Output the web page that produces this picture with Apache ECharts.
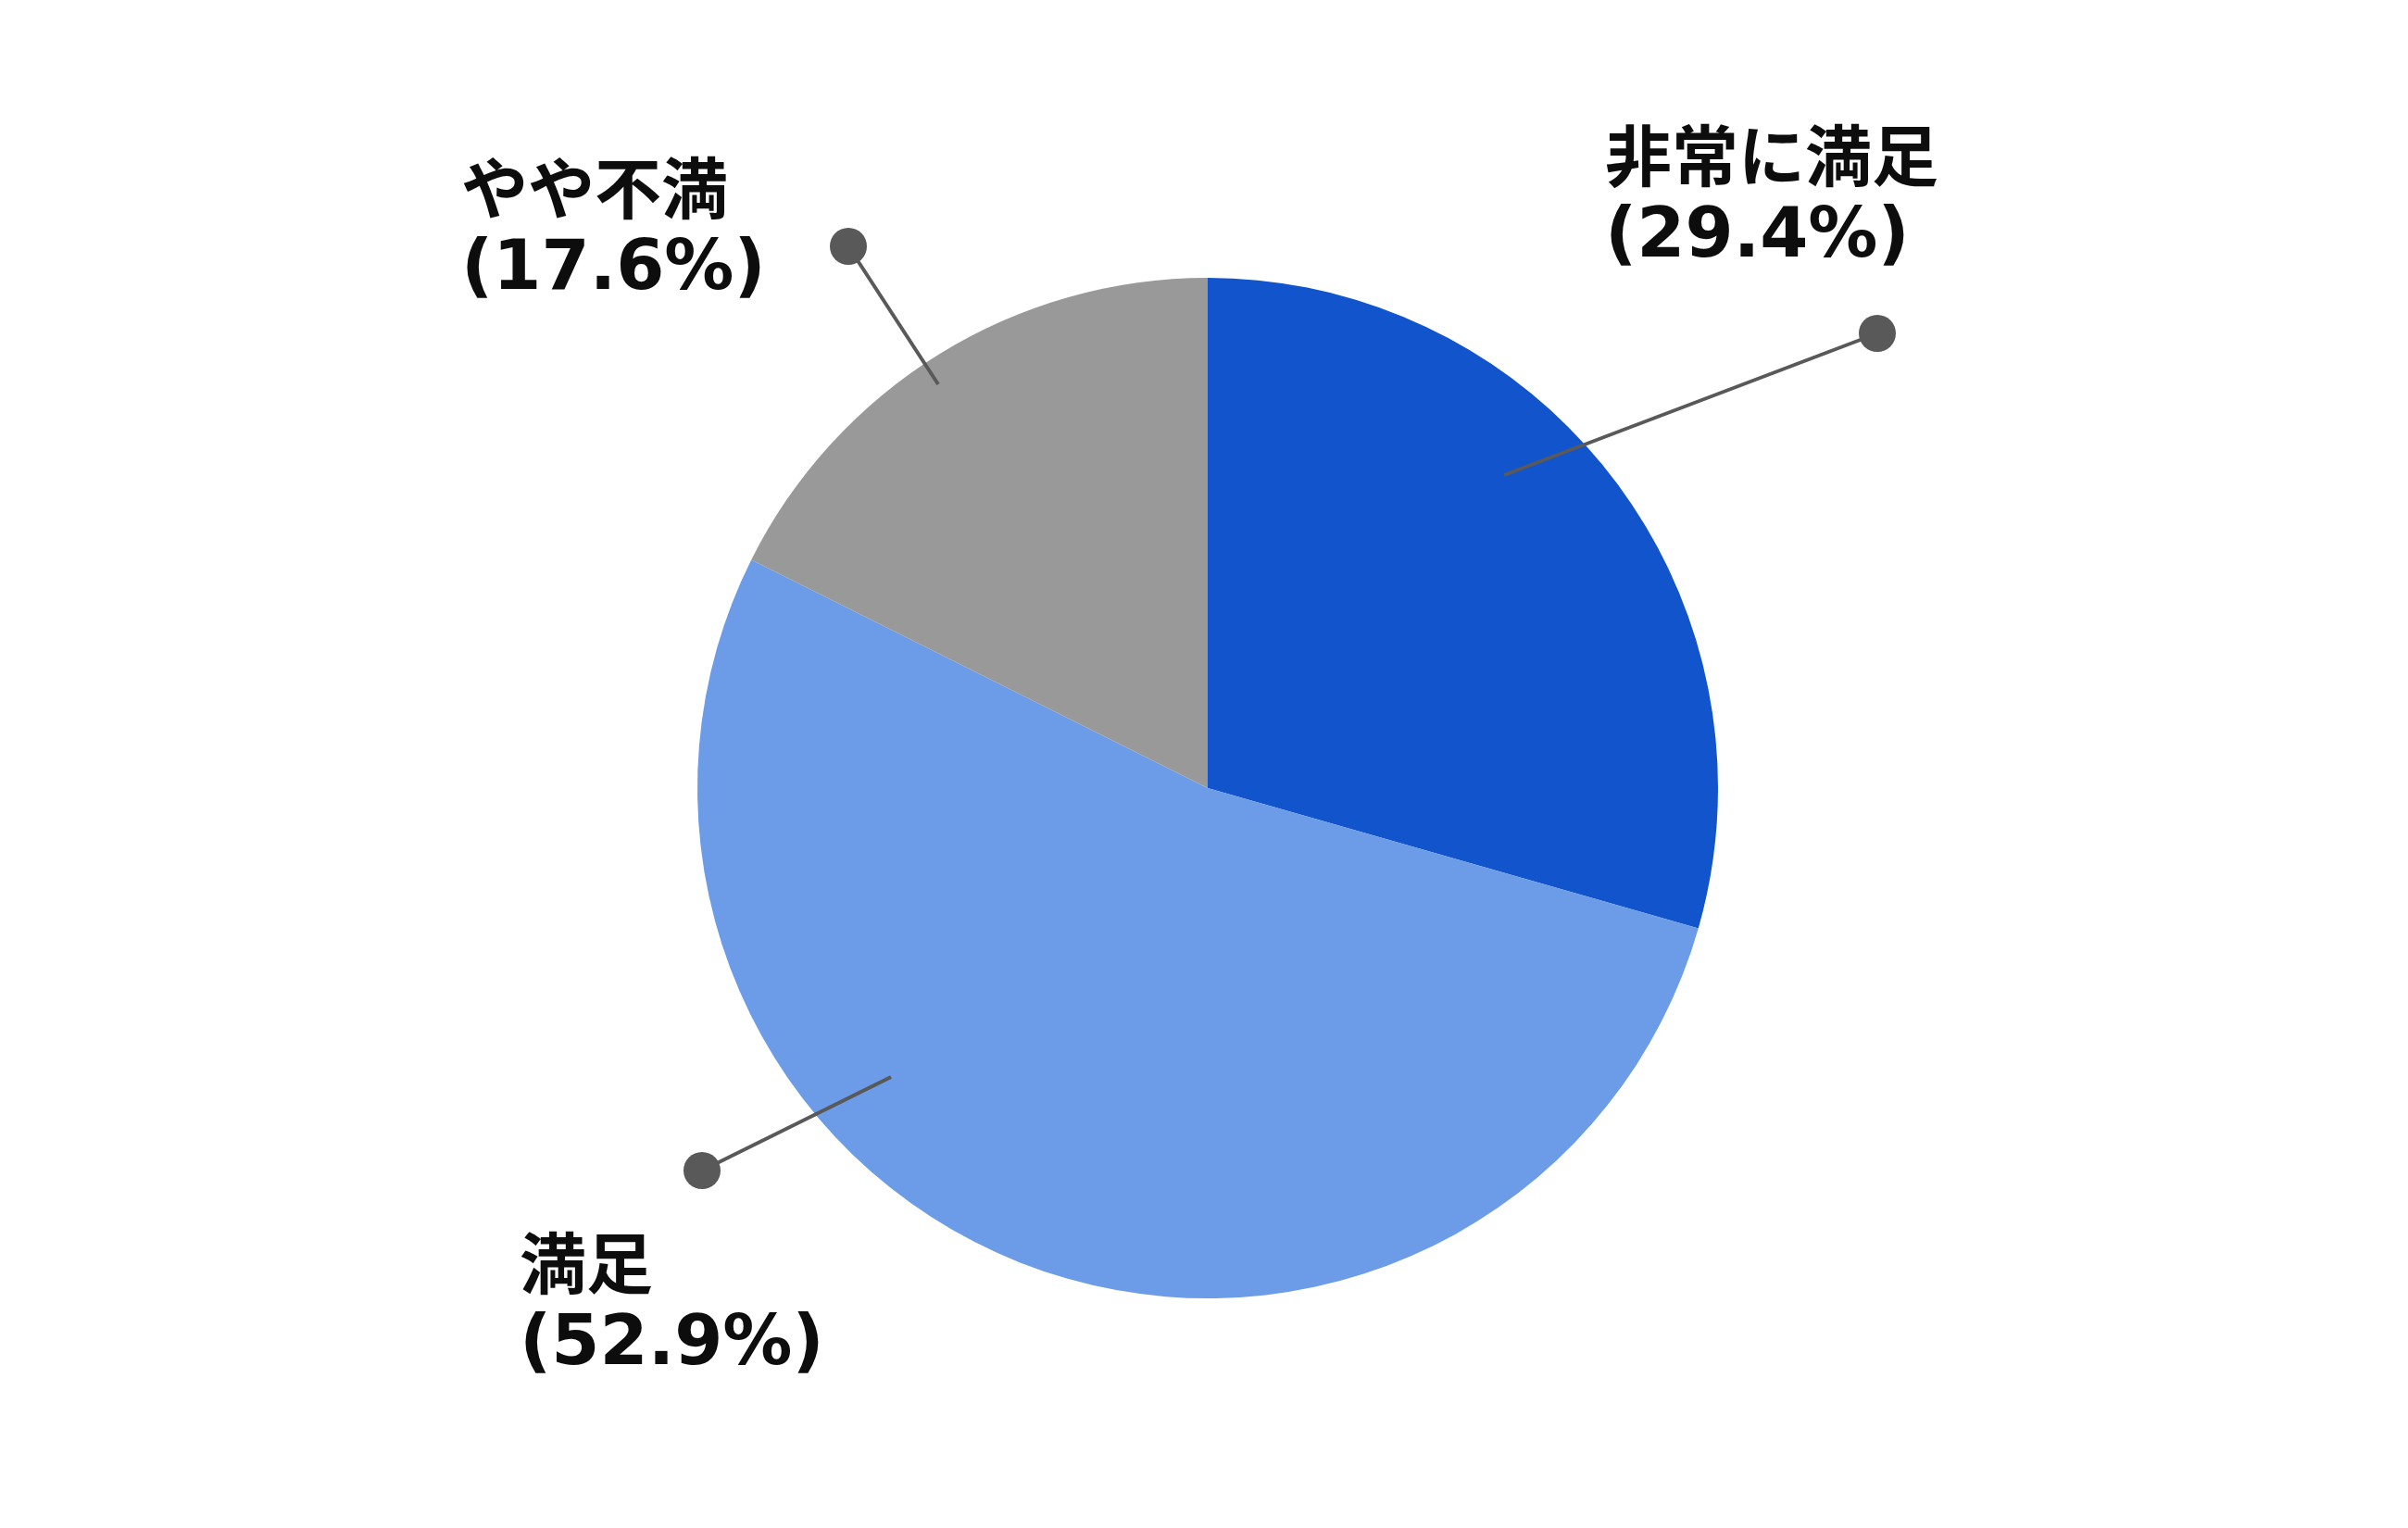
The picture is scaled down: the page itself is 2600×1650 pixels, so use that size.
<!DOCTYPE html>
<html>
<head>
<meta charset="utf-8">
<script src="https://cdn.jsdelivr.net/npm/echarts@6/dist/echarts.min.js"></script>
<style>
  html, body { margin: 0; padding: 0; background: #ffffff; }
  #chart { width: 2600px; height: 1650px; }
</style>
</head>
<body>
<div id="chart"></div>
<script>
// ---- data ----
const categories = ['非常に満足', '満足', 'やや不満'];
const shares = [29.4, 52.9, 17.6];
const sliceColors = ['#1254CC', '#6C9CE8', '#999999'];

// ---- layout (pie geometry and annotation anchors, px relative to pie center) ----
const CX = 1304, CY = 851, R = 551;
const anchors = [
  { inner: [320, -338], dot: [723, -491], text: [429, -728] },
  { inner: [-342, 312], dot: [-546, 413], text: [-743, 468] },
  { inner: [-291, -436], dot: [-388, -585], text: [-806, -693] }
];
const lineColor = '#595959';

const pieData = categories.map((name, i) => ({
  name: name,
  value: shares[i],
  itemStyle: { color: sliceColors[i] }
}));

const chart = echarts.init(document.getElementById('chart'), null, { renderer: 'canvas' });

chart.setOption({
  backgroundColor: '#ffffff',
  animation: false,
  series: [
    {
      type: 'pie',
      center: [CX, CY],
      radius: R,
      startAngle: 90,
      clockwise: true,
      avoidLabelOverlap: false,
      itemStyle: { borderWidth: 0 },
      emphasis: { disabled: true },
      data: pieData,
      label: {
        show: true,
        position: 'outside',
        formatter: p => '{a|' + p.name + '}\n{b|(' + p.value.toFixed(1) + '%)}',
        rich: {
          a: {
            fontFamily: 'Noto Sans CJK JP',
            fontWeight: 'bold',
            fontSize: 72,
            lineHeight: 90,
            color: '#0d0d0d'
          },
          b: {
            fontFamily: 'DejaVu Sans',
            fontWeight: 'bold',
            fontSize: 75,
            lineHeight: 90,
            color: '#0d0d0d'
          }
        }
      },
      labelLine: { show: false },
      labelLayout: function (params) {
        const a = anchors[params.dataIndex];
        return {
          x: CX + a.text[0],
          y: CY + a.text[1],
          align: 'left',
          verticalAlign: 'top'
        };
      }
    },
    {
      type: 'pie',
      center: [CX, CY],
      radius: R,
      startAngle: 90,
      clockwise: true,
      silent: true,
      z: 5,
      avoidLabelOverlap: false,
      itemStyle: { color: 'rgba(0,0,0,0)', borderWidth: 0 },
      emphasis: { disabled: true },
      data: categories.map((name, i) => ({ name: name, value: shares[i] })),
      label: {
        show: true,
        position: 'outside',
        formatter: '{dot| }',
        rich: {
          dot: {
            width: 40,
            height: 40,
            lineHeight: 40,
            borderRadius: 20,
            backgroundColor: lineColor
          }
        }
      },
      labelLine: {
        show: true,
        showAbove: true,
        smooth: false,
        lineStyle: { color: lineColor, width: 4 }
      },
      labelLayout: function (params) {
        const a = anchors[params.dataIndex];
        return {
          x: CX + a.dot[0],
          y: CY + a.dot[1],
          align: 'center',
          verticalAlign: 'middle',
          labelLinePoints: [
            [CX + a.inner[0], CY + a.inner[1]],
            [CX + a.dot[0], CY + a.dot[1]]
          ]
        };
      }
    }
  ]
});
</script>
</body>
</html>
